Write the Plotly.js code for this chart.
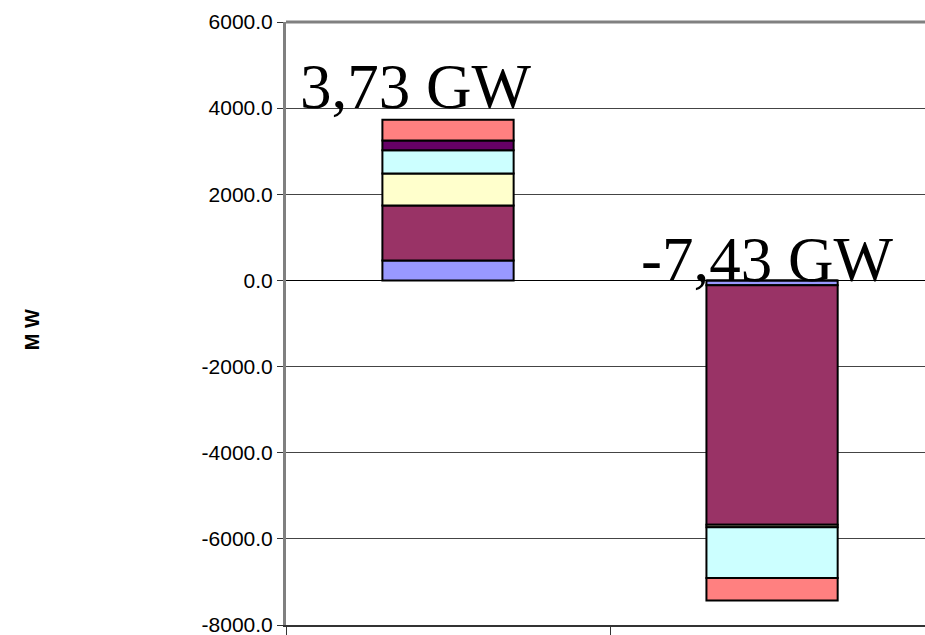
<!DOCTYPE html>
<html>
<head>
<meta charset="utf-8">
<script src="https://cdn.plot.ly/plotly-3.0.1.min.js"></script>
<style>
  html, body { margin: 0; padding: 0; background: #fff; overflow: hidden; }
  #chart { width: 925px; height: 635px; }
</style>
</head>
<body>
<div id="chart"></div>
<script>
// Two stacked columns (MW), six components each
const categories = ['1', '2'];
const seriesNames = ['Serie 1', 'Serie 2', 'Serie 3', 'Serie 4', 'Serie 5', 'Serie 6'];
const serie1 = [460, -110];
const serie2 = [1280, -5560];
const serie3 = [745, -60];
const serie4 = [535, -1180];
const serie5 = [230, 0];
const serie6 = [480, -520];
const seriesColors = ['#9999FF', '#993366', '#FFFFCC', '#CCFFFF', '#660066', '#FF8080'];

const tickValues = [-8000, -6000, -4000, -2000, 0, 2000, 4000, 6000];
const tickLabels = ['-8000.0', '-6000.0', '-4000.0', '-2000.0', '0.0', '2000.0', '4000.0', '6000.0'];

const allSeries = [serie1, serie2, serie3, serie4, serie5, serie6];

const traces = allSeries.map((vals, i) => ({
  type: 'bar',
  name: seriesNames[i],
  x: categories,
  y: vals,
  marker: { color: seriesColors[i], line: { color: '#000000', width: 2 } },
  hoverinfo: 'y',
  showlegend: false
}));

// Column totals, written as "x,yz GW"
const totals = categories.map((c, j) => allSeries.reduce((s, v) => s + v[j], 0));
const totalLabel = t => (t / 1000).toFixed(2).replace('.', ',') + ' GW';

const labelFont = { family: '"Times New Roman", "Liberation Serif", serif', size: 63, color: '#000000' };
const sansFont = 'Arial, "Liberation Sans", sans-serif';

const layout = {
  width: 925,
  height: 635,
  margin: { l: 286, r: 0, t: 22, b: 10 },
  paper_bgcolor: '#ffffff',
  plot_bgcolor: '#ffffff',
  barmode: 'relative',
  bargap: 0.595,
  xaxis: {
    type: 'category',
    range: [-0.5, 1.472],
    showticklabels: false,
    tickson: 'boundaries',
    ticks: 'outside',
    ticklen: 10,
    tickwidth: 1,
    tickcolor: '#333333',
    showgrid: false,
    showline: true,
    linecolor: '#333333',
    linewidth: 2,
    zeroline: false
  },
  yaxis: {
    range: [-8000, 6000],
    tickvals: tickValues,
    ticktext: tickLabels,
    ticks: 'outside',
    ticklen: 6,
    tickwidth: 1,
    tickcolor: '#333333',
    tickfont: { family: sansFont, size: 21, color: '#000000' },
    ticklabeloverflow: 'allow',
    showgrid: true,
    gridcolor: '#444444',
    gridwidth: 1,
    showline: true,
    linecolor: '#808080',
    linewidth: 3,
    zeroline: true,
    zerolinecolor: '#000000',
    zerolinewidth: 1.5,
    automargin: false
  },
  shapes: [{
    type: 'line', xref: 'paper', yref: 'paper',
    x0: 0, x1: 1, y0: 1, y1: 1,
    line: { color: '#808080', width: 3 }
  }],
  annotations: [
    {
      // vertical axis title
      xref: 'paper', yref: 'paper', x: -0.398, y: 0.49,
      text: 'M W', textangle: -90, showarrow: false,
      xanchor: 'center', yanchor: 'middle',
      font: { family: sansFont, size: 20, color: '#000000', weight: 'bold' }
    },
    {
      xref: 'x', yref: 'y', x: -0.099, y: 4490,
      text: totalLabel(totals[0]), showarrow: false,
      xanchor: 'center', yanchor: 'middle', font: labelFont
    },
    {
      xref: 'x', yref: 'y', x: 0.985, y: 480,
      text: totalLabel(totals[1]), showarrow: false,
      xanchor: 'center', yanchor: 'middle', font: labelFont
    }
  ]
};

Plotly.newPlot('chart', traces, layout, { displayModeBar: false, staticPlot: true });
</script>
</body>
</html>
